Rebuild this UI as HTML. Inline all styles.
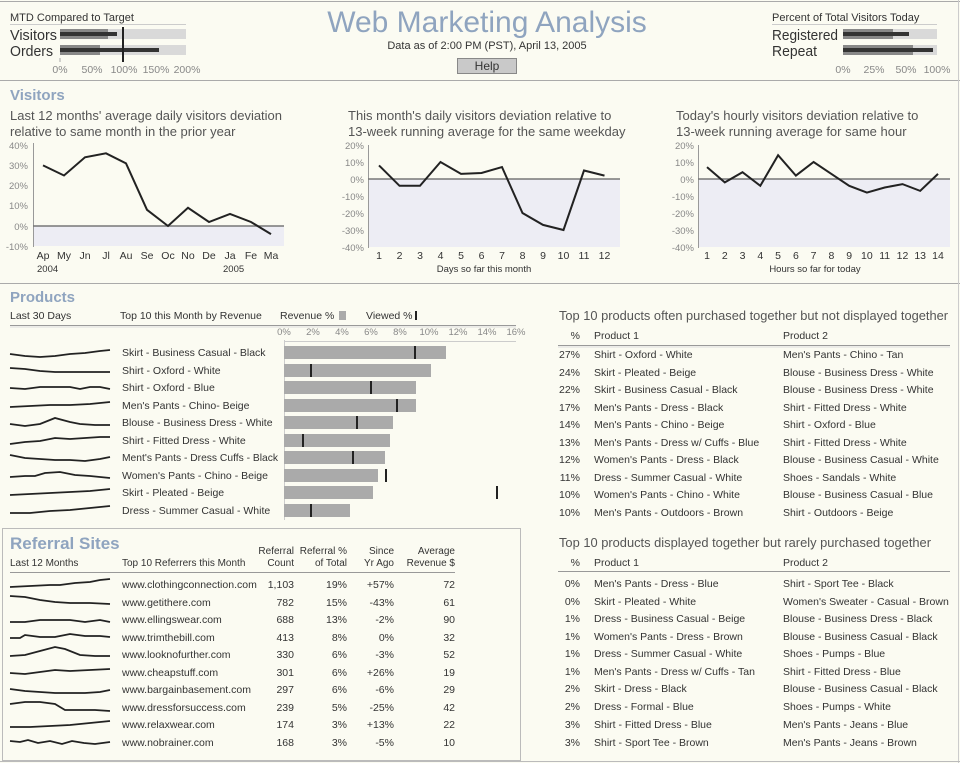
<!DOCTYPE html>
<html><head><meta charset="utf-8"><style>
html,body{margin:0;padding:0;background:#fbfbf2;}
svg{display:block;font-family:"Liberation Sans",sans-serif;}
text{fill:#333;}
.g{fill:#888;}
.t{fill:#555;}
.h{fill:#8fa4bf;font-weight:bold;}
.sp{fill:none;stroke:#222;stroke-width:1.8;}
</style></head><body>
<svg width="960" height="763" viewBox="0 0 960 763" xmlns="http://www.w3.org/2000/svg">
<rect x="0" y="0" width="960" height="763" fill="#fbfbf2"/>
<line x1="0" y1="1.5" x2="960" y2="1.5" stroke="#aaa"/>
<line x1="0" y1="80.5" x2="960" y2="80.5" stroke="#aaa"/>
<line x1="0" y1="283.5" x2="960" y2="283.5" stroke="#aaa"/>
<line x1="958.5" y1="0" x2="958.5" y2="763" stroke="#ccc"/>

<!-- Header left -->
<text x="10" y="21" font-size="11">MTD Compared to Target</text>
<line x1="10" y1="24.5" x2="186" y2="24.5" stroke="#ccc"/>
<text x="10" y="40" font-size="14.5" fill="#111" textLength="47" lengthAdjust="spacingAndGlyphs">Visitors</text>
<text x="10" y="56" font-size="14.5" fill="#111" textLength="43" lengthAdjust="spacingAndGlyphs">Orders</text>
<rect x="60" y="29" width="126" height="10" fill="#d9d9d9"/>
<rect x="60" y="29" width="48" height="10" fill="#888"/>
<rect x="60" y="32" width="57" height="4" fill="#333"/>
<rect x="60" y="45" width="126" height="10" fill="#d9d9d9"/>
<rect x="60" y="45" width="40" height="10" fill="#888"/>
<rect x="60" y="48" width="99" height="4" fill="#333"/>
<line x1="123" y1="27" x2="123" y2="62" stroke="#222" stroke-width="2"/>
<line x1="60" y1="58" x2="60" y2="62" stroke="#aaa"/>
<g font-size="10.5" text-anchor="middle">
<text x="60" y="73" class="g">0%</text><text x="92" y="73" class="g">50%</text><text x="124" y="73" class="g">100%</text><text x="156" y="73" class="g">150%</text><text x="187" y="73" class="g">200%</text>
</g>

<!-- Title -->
<text x="487" y="32" font-size="30" text-anchor="middle" style="fill:#8fa4bf">Web Marketing Analysis</text>
<text x="487" y="49" font-size="11" text-anchor="middle">Data as of 2:00 PM (PST), April 13, 2005</text>
<rect x="457.5" y="58.5" width="59" height="15" fill="#c9c9c9" stroke="#888"/>
<text x="487" y="70" font-size="12" text-anchor="middle">Help</text>

<!-- Header right -->
<text x="772" y="21" font-size="11">Percent of Total Visitors Today</text>
<line x1="772" y1="24.5" x2="937" y2="24.5" stroke="#ccc"/>
<text x="772" y="40" font-size="14.5" fill="#111" textLength="66" lengthAdjust="spacingAndGlyphs">Registered</text>
<text x="772" y="56" font-size="14.5" fill="#111" textLength="45" lengthAdjust="spacingAndGlyphs">Repeat</text>
<rect x="843" y="29" width="94" height="10" fill="#d9d9d9"/>
<rect x="843" y="29" width="50" height="10" fill="#888"/>
<rect x="843" y="32" width="66" height="4" fill="#333"/>
<rect x="843" y="45" width="94" height="10" fill="#d9d9d9"/>
<rect x="843" y="45" width="70" height="10" fill="#888"/>
<rect x="843" y="48" width="90" height="4" fill="#333"/>
<g font-size="10.5" text-anchor="middle">
<text x="843" y="73" class="g">0%</text><text x="874" y="73" class="g">25%</text><text x="906" y="73" class="g">50%</text><text x="937" y="73" class="g">100%</text>
</g>

<!-- Visitors -->
<text x="10" y="100" font-size="15" class="h">Visitors</text>
<g font-size="13">
<text x="10" y="120" class="t">Last 12 months' average daily visitors deviation</text>
<text x="10" y="136" class="t">relative to same month in the prior year</text>
<text x="348" y="120" class="t">This month's daily visitors deviation relative to</text>
<text x="348" y="136" class="t">13-week running average for the same weekday</text>
<text x="676" y="120" class="t">Today's hourly visitors deviation relative to</text>
<text x="676" y="136" class="t">13-week running average for same hour</text>
</g>

<!-- chart1 -->
<rect x="33" y="226" width="251" height="20" fill="#ededf4"/>
<line x1="33.5" y1="143" x2="33.5" y2="247" stroke="#999"/>
<line x1="33" y1="226" x2="284" y2="226" stroke="#777" stroke-width="1.5"/>
<g font-size="9.5" text-anchor="end">
<text x="28" y="149" class="g">40%</text><text x="28" y="169" class="g">30%</text><text x="28" y="189" class="g">20%</text><text x="28" y="209" class="g">10%</text><text x="28" y="230" class="g">0%</text><text x="28" y="250" class="g">-10%</text>
</g>
<polyline class="sp" style="stroke-width:2" points="43,165.4 64,175.5 85,157.3 106,153.3 126,163.4 147,209.8 168,226 188,207.8 209,222 230,213.9 251,222 271,234.1"/>
<g font-size="10.5" text-anchor="middle">
<text x="43" y="259">Ap</text><text x="64" y="259">My</text><text x="85" y="259">Jn</text><text x="106" y="259">Jl</text><text x="126" y="259">Au</text><text x="147" y="259">Se</text><text x="168" y="259">Oc</text><text x="188" y="259">No</text><text x="209" y="259">De</text><text x="230" y="259">Ja</text><text x="251" y="259">Fe</text><text x="271" y="259">Ma</text>
</g>
<text x="37" y="272" font-size="9.5">2004</text>
<text x="223" y="272" font-size="9.5">2005</text>

<!-- chart2 -->
<rect x="368" y="179" width="252" height="68" fill="#ededf4"/>
<line x1="368.5" y1="145" x2="368.5" y2="248" stroke="#999"/>
<line x1="368" y1="179" x2="620" y2="179" stroke="#777" stroke-width="1.5"/>
<g font-size="9.5" text-anchor="end">
<text x="364" y="149" class="g">20%</text><text x="364" y="166" class="g">10%</text><text x="364" y="183" class="g">0%</text><text x="364" y="200" class="g">-10%</text><text x="364" y="217" class="g">-20%</text><text x="364" y="234" class="g">-30%</text><text x="364" y="251" class="g">-40%</text>
</g>
<polyline class="sp" style="stroke-width:2" points="379,165.4 399.5,185.8 420,185.8 440.5,162 461,173.9 481.5,173 502,167.1 522.5,213 543,224.9 563.5,230 584,170.5 604.5,175.6"/>
<g font-size="10.5" text-anchor="middle">
<text x="379" y="259">1</text><text x="399.5" y="259">2</text><text x="420" y="259">3</text><text x="440.5" y="259">4</text><text x="461" y="259">5</text><text x="481.5" y="259">6</text><text x="502" y="259">7</text><text x="522.5" y="259">8</text><text x="543" y="259">9</text><text x="563.5" y="259">10</text><text x="584" y="259">11</text><text x="604.5" y="259">12</text>
<text x="484" y="272" font-size="9.5">Days so far this month</text>
</g>

<!-- chart3 -->
<rect x="698" y="179" width="252" height="68" fill="#ededf4"/>
<line x1="698.5" y1="145" x2="698.5" y2="248" stroke="#999"/>
<line x1="698" y1="179" x2="950" y2="179" stroke="#777" stroke-width="1.5"/>
<g font-size="9.5" text-anchor="end">
<text x="694" y="149" class="g">20%</text><text x="694" y="166" class="g">10%</text><text x="694" y="183" class="g">0%</text><text x="694" y="200" class="g">-10%</text><text x="694" y="217" class="g">-20%</text><text x="694" y="234" class="g">-30%</text><text x="694" y="251" class="g">-40%</text>
</g>
<polyline class="sp" style="stroke-width:2" points="707,167.1 724.8,182.4 742.5,172.2 760.3,185.8 778.1,155.2 795.9,175.6 813.6,162 831.4,173.9 849.2,185.8 866.9,192.6 884.7,187.5 902.5,184.1 920.2,190.9 938,173.9"/>
<g font-size="10.5" text-anchor="middle">
<text x="707" y="259">1</text><text x="724.8" y="259">2</text><text x="742.5" y="259">3</text><text x="760.3" y="259">4</text><text x="778.1" y="259">5</text><text x="795.9" y="259">6</text><text x="813.6" y="259">7</text><text x="831.4" y="259">8</text><text x="849.2" y="259">9</text><text x="866.9" y="259">10</text><text x="884.7" y="259">11</text><text x="902.5" y="259">12</text><text x="920.2" y="259">13</text><text x="938" y="259">14</text>
<text x="815" y="272" font-size="9.5">Hours so far for today</text>
</g>

<!-- Products -->
<text x="10" y="302" font-size="15" class="h">Products</text>
<g font-size="10.5">
<text x="10" y="319">Last 30 Days</text>
<text x="120" y="319">Top 10 this Month by Revenue</text>
<text x="280" y="319">Revenue %</text>
<rect x="339" y="311" width="7" height="9" fill="#aaa"/>
<text x="366" y="319">Viewed %</text>
<rect x="415" y="311" width="2" height="9" fill="#222"/>
</g>
<line x1="10" y1="325.5" x2="516" y2="325.5" stroke="#999"/>
<line x1="10" y1="327" x2="516" y2="327" stroke="#ddd"/>
<g font-size="9.5" text-anchor="middle">
<text x="284" y="335" class="g">0%</text><text x="313" y="335" class="g">2%</text><text x="342" y="335" class="g">4%</text><text x="371" y="335" class="g">6%</text><text x="400" y="335" class="g">8%</text><text x="429" y="335" class="g">10%</text><text x="458" y="335" class="g">12%</text><text x="487" y="335" class="g">14%</text><text x="516" y="335" class="g">16%</text>
</g>
<line x1="284.5" y1="340" x2="284.5" y2="520" stroke="#ccc"/>
<line x1="284" y1="341.5" x2="516" y2="341.5" stroke="#ccc"/>
<g fill="#aaa">
<rect x="284" y="346" width="162" height="13"/>
<rect x="284" y="364" width="147" height="13"/>
<rect x="284" y="381" width="132" height="13"/>
<rect x="284" y="399" width="132" height="13"/>
<rect x="284" y="416" width="109" height="13"/>
<rect x="284" y="434" width="106" height="13"/>
<rect x="284" y="451" width="101" height="13"/>
<rect x="284" y="469" width="94" height="13"/>
<rect x="284" y="486" width="89" height="13"/>
<rect x="284" y="504" width="66" height="13"/>
</g>
<g fill="#222">
<rect x="414" y="346" width="2" height="13"/>
<rect x="310" y="364" width="2" height="13"/>
<rect x="370" y="381" width="2" height="13"/>
<rect x="396" y="399" width="2" height="13"/>
<rect x="356" y="416" width="2" height="13"/>
<rect x="302" y="434" width="2" height="13"/>
<rect x="352" y="451" width="2" height="13"/>
<rect x="385" y="469" width="2" height="13"/>
<rect x="496" y="486" width="2" height="13"/>
<rect x="310" y="504" width="2" height="13"/>
</g>
<g font-size="10.5">
<text x="122" y="356">Skirt - Business Casual - Black</text>
<text x="122" y="374">Shirt - Oxford - White</text>
<text x="122" y="391">Shirt - Oxford - Blue</text>
<text x="122" y="409">Men's Pants - Chino- Beige</text>
<text x="122" y="426">Blouse - Business Dress - White</text>
<text x="122" y="444">Shirt - Fitted Dress - White</text>
<text x="122" y="461" textLength="156" lengthAdjust="spacingAndGlyphs">Ment's Pants - Dress Cuffs - Black</text>
<text x="122" y="479">Women's Pants - Chino - Beige</text>
<text x="122" y="496">Skirt - Pleated - Beige</text>
<text x="122" y="514">Dress - Summer Casual - White</text>
</g>
<g class="sp">
<polyline points="10,354 25,356 40,357 55,356 70,354 85,353 100,351 110,350"/>
<polyline points="10,368 25,369 40,371 55,372 70,372 85,372 100,372 110,372"/>
<polyline points="10,388 25,389 40,387 55,387 70,387 80,389 90,387 100,387 110,389"/>
<polyline points="10,407 30,406 50,405 70,405 90,404 110,402"/>
<polyline points="10,424 25,426 40,424 55,418 70,422 80,424 95,425 110,425"/>
<polyline points="10,444 25,442 40,441 55,438 70,439 85,438 100,437 110,437"/>
<polyline points="10,455 25,458 40,459 55,460 70,460 85,461 100,459 110,457"/>
<polyline points="10,477 25,476 35,476 45,473 60,472 75,475 90,476 110,478"/>
<polyline points="10,495 30,494 50,493 70,492 90,491 110,489"/>
<polyline points="10,513 30,513 50,511 70,510 90,508 110,506"/>
</g>

<!-- Referral -->
<rect x="2.5" y="528.5" width="518" height="232" fill="none" stroke="#bbb"/>
<text x="10" y="549" font-size="17" class="h">Referral Sites</text>
<g font-size="10">
<text x="10" y="566">Last 12 Months</text>
<text x="122" y="566">Top 10 Referrers this Month</text>
<g text-anchor="end">
<text x="294" y="554">Referral</text><text x="294" y="566">Count</text>
<text x="347" y="554">Referral %</text><text x="347" y="566">of Total</text>
<text x="394" y="554">Since</text><text x="394" y="566">Yr Ago</text>
<text x="455" y="554">Average</text><text x="455" y="566">Revenue $</text>
</g>
</g>
<line x1="10" y1="572.5" x2="455" y2="572.5" stroke="#999"/>
<g font-size="10.5">
<text x="122" y="588">www.clothingconnection.com</text>
<text x="122" y="606">www.getithere.com</text>
<text x="122" y="623">www.ellingswear.com</text>
<text x="122" y="641">www.trimthebill.com</text>
<text x="122" y="658">www.looknofurther.com</text>
<text x="122" y="676">www.cheapstuff.com</text>
<text x="122" y="693">www.bargainbasement.com</text>
<text x="122" y="711">www.dressforsuccess.com</text>
<text x="122" y="728">www.relaxwear.com</text>
<text x="122" y="746">www.nobrainer.com</text>
<g text-anchor="end">
<text x="294" y="588">1,103</text><text x="347" y="588">19%</text><text x="394" y="588">+57%</text><text x="455" y="588">72</text>
<text x="294" y="606">782</text><text x="347" y="606">15%</text><text x="394" y="606">-43%</text><text x="455" y="606">61</text>
<text x="294" y="623">688</text><text x="347" y="623">13%</text><text x="394" y="623">-2%</text><text x="455" y="623">90</text>
<text x="294" y="641">413</text><text x="347" y="641">8%</text><text x="394" y="641">0%</text><text x="455" y="641">32</text>
<text x="294" y="658">330</text><text x="347" y="658">6%</text><text x="394" y="658">-3%</text><text x="455" y="658">52</text>
<text x="294" y="676">301</text><text x="347" y="676">6%</text><text x="394" y="676">+26%</text><text x="455" y="676">19</text>
<text x="294" y="693">297</text><text x="347" y="693">6%</text><text x="394" y="693">-6%</text><text x="455" y="693">29</text>
<text x="294" y="711">239</text><text x="347" y="711">5%</text><text x="394" y="711">-25%</text><text x="455" y="711">42</text>
<text x="294" y="728">174</text><text x="347" y="728">3%</text><text x="394" y="728">+13%</text><text x="455" y="728">22</text>
<text x="294" y="746">168</text><text x="347" y="746">3%</text><text x="394" y="746">-5%</text><text x="455" y="746">10</text>
</g>
</g>
<g class="sp">
<polyline points="10,587 30,586 50,585 60,585 75,583 90,582 100,580 110,579"/>
<polyline points="10,596 25,597 40,600 55,602 70,603 90,603 110,604"/>
<polyline points="10,622 25,622 40,620 55,620 70,620 85,622 100,620 110,622"/>
<polyline points="10,638 20,638 25,635 40,637 55,637 70,634 85,636 100,636 110,637"/>
<polyline points="10,656 25,655 40,651 55,647 65,649 80,655 95,656 110,656"/>
<polyline points="10,673 25,674 40,672 55,670 70,671 90,670 110,669"/>
<polyline points="10,689 25,691 40,692 55,693 70,693 85,693 100,692 110,690"/>
<polyline points="10,704 25,702 40,702 55,704 65,710 80,710 95,710 110,711"/>
<polyline points="10,727 30,727 50,726 70,725 90,723 110,721"/>
<polyline points="10,741 20,742 28,740 38,743 50,741 62,744 72,741 84,743 95,744 110,742"/>
</g>

<!-- Right tables -->
<text x="559" y="320" font-size="13" class="t" textLength="389" lengthAdjust="spacingAndGlyphs">Top 10 products often purchased together but not displayed together</text>
<g font-size="10.5">
<text x="580" y="339" text-anchor="end">%</text><text x="594" y="339">Product 1</text><text x="783" y="339">Product 2</text>
</g>
<line x1="558" y1="345.5" x2="950" y2="345.5" stroke="#999"/>
<line x1="558" y1="347" x2="950" y2="347" stroke="#ddd"/>
<g font-size="10.5">
<g text-anchor="end">
<text x="580" y="358">27%</text><text x="580" y="376">24%</text><text x="580" y="393">22%</text><text x="580" y="411">17%</text><text x="580" y="428">14%</text><text x="580" y="446">13%</text><text x="580" y="463">12%</text><text x="580" y="481">11%</text><text x="580" y="498">10%</text><text x="580" y="516">10%</text>
</g>
<text x="594" y="358">Shirt - Oxford - White</text><text x="783" y="358">Men's Pants - Chino - Tan</text>
<text x="594" y="376">Skirt - Pleated - Beige</text><text x="783" y="376">Blouse - Business Dress - White</text>
<text x="594" y="393">Skirt - Business Casual - Black</text><text x="783" y="393">Blouse - Business Dress - White</text>
<text x="594" y="411">Men's Pants - Dress - Black</text><text x="783" y="411">Shirt - Fitted Dress - White</text>
<text x="594" y="428">Men's Pants - Chino - Beige</text><text x="783" y="428">Shirt - Oxford - Blue</text>
<text x="594" y="446">Men's Pants - Dress w/ Cuffs - Blue</text><text x="783" y="446">Shirt - Fitted Dress - White</text>
<text x="594" y="463">Women's Pants - Dress - Black</text><text x="783" y="463">Blouse - Business Casual - White</text>
<text x="594" y="481">Dress - Summer Casual - White</text><text x="783" y="481">Shoes - Sandals - White</text>
<text x="594" y="498">Women's Pants - Chino - White</text><text x="783" y="498">Blouse - Business Casual - Blue</text>
<text x="594" y="516">Men's Pants - Outdoors - Brown</text><text x="783" y="516">Shirt - Outdoors - Beige</text>
</g>

<text x="559" y="547" font-size="13" class="t" textLength="372" lengthAdjust="spacingAndGlyphs">Top 10 products displayed together but rarely purchased together</text>
<g font-size="10.5">
<text x="580" y="566" text-anchor="end">%</text><text x="594" y="566">Product 1</text><text x="783" y="566">Product 2</text>
</g>
<line x1="558" y1="571.5" x2="950" y2="571.5" stroke="#999"/>
<g font-size="10.5">
<g text-anchor="end">
<text x="580" y="587">0%</text><text x="580" y="605">0%</text><text x="580" y="622">1%</text><text x="580" y="640">1%</text><text x="580" y="657">1%</text><text x="580" y="675">1%</text><text x="580" y="692">2%</text><text x="580" y="710">2%</text><text x="580" y="728">3%</text><text x="580" y="746">3%</text>
</g>
<text x="594" y="587">Men's Pants - Dress - Blue</text><text x="783" y="587">Shirt - Sport Tee - Black</text>
<text x="594" y="605">Skirt - Pleated - White</text><text x="783" y="605">Women's Sweater - Casual - Brown</text>
<text x="594" y="622">Dress - Business Casual - Beige</text><text x="783" y="622">Blouse - Business Dress - Black</text>
<text x="594" y="640">Women's Pants - Dress - Brown</text><text x="783" y="640">Blouse - Business Casual - Black</text>
<text x="594" y="657">Dress - Summer Casual - White</text><text x="783" y="657">Shoes - Pumps - Blue</text>
<text x="594" y="675">Men's Pants - Dress w/ Cuffs - Tan</text><text x="783" y="675">Shirt - Fitted Dress - Blue</text>
<text x="594" y="692">Skirt - Dress - Black</text><text x="783" y="692">Blouse - Business Casual - Black</text>
<text x="594" y="710">Dress - Formal - Blue</text><text x="783" y="710">Shoes - Pumps - White</text>
<text x="594" y="728">Shirt - Fitted Dress - Blue</text><text x="783" y="728">Men's Pants - Jeans - Blue</text>
<text x="594" y="746">Shirt - Sport Tee - Brown</text><text x="783" y="746">Men's Pants - Jeans - Brown</text>
</g>
<line x1="0" y1="761.5" x2="960" y2="761.5" stroke="#bbb"/>
</svg>
</body></html>
